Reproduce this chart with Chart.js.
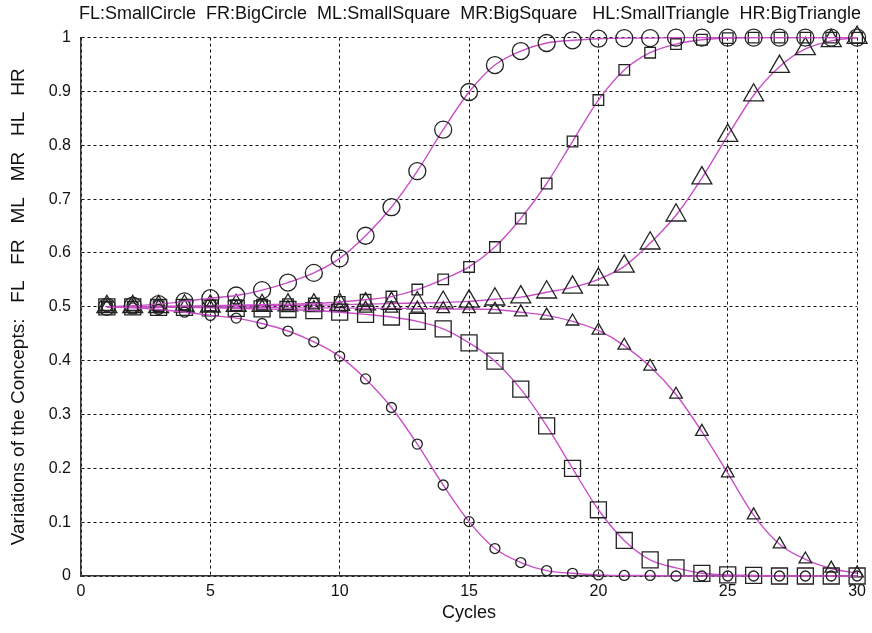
<!DOCTYPE html>
<html>
<head>
<meta charset="utf-8">
<script src="https://cdn.jsdelivr.net/npm/chart.js@4.4.1/dist/chart.umd.min.js"></script>
<style>
  html, body { margin: 0; padding: 0; background: #fff; }
  canvas { display: block; }
</style>
</head>
<body>
<canvas id="conceptsChart" width="872" height="633"></canvas>
<script>
const cycles = [1, 2, 3, 4, 5, 6, 7, 8, 9, 10, 11, 12, 13, 14, 15,
    16, 17, 18, 19, 20, 21, 22, 23, 24, 25, 26, 27, 28, 29, 30];

const FL = [0.500, 0.498, 0.495, 0.490, 0.484, 0.479, 0.469, 0.455, 0.435, 0.408,
    0.366, 0.313, 0.245, 0.169, 0.101, 0.051, 0.025, 0.010, 0.005, 0.002,
    0.001, 0.001, 0, 0, 0, 0, 0, 0, 0, 0];
const FR = [0.500, 0.502, 0.505, 0.510, 0.516, 0.521, 0.531, 0.545, 0.563, 0.590,
    0.632, 0.685, 0.752, 0.829, 0.899, 0.949, 0.975, 0.990, 0.995, 0.998,
    0.999, 0.999, 1, 1, 1, 1, 1, 1, 1, 1];
const ML = [0.500, 0.500, 0.501, 0.501, 0.502, 0.503, 0.504, 0.505, 0.506, 0.509,
    0.513, 0.519, 0.532, 0.551, 0.574, 0.611, 0.664, 0.729, 0.807, 0.884,
    0.940, 0.972, 0.988, 0.996, 0.999, 1, 1, 1, 1, 1];
const MR = [0.500, 0.500, 0.499, 0.499, 0.498, 0.497, 0.496, 0.495, 0.493, 0.490,
    0.486, 0.481, 0.473, 0.459, 0.433, 0.399, 0.347, 0.279, 0.200, 0.123,
    0.066, 0.030, 0.015, 0.005, 0.002, 0.001, 0, 0, 0, 0];
const HL = [0.500, 0.500, 0.500, 0.500, 0.499, 0.499, 0.499, 0.498, 0.498, 0.498,
    0.497, 0.497, 0.497, 0.496, 0.496, 0.495, 0.490, 0.484, 0.473, 0.456,
    0.428, 0.389, 0.337, 0.268, 0.191, 0.113, 0.059, 0.031, 0.014, 0.005];
const HR = [0.500, 0.500, 0.500, 0.501, 0.501, 0.502, 0.502, 0.503, 0.503, 0.504,
    0.505, 0.506, 0.507, 0.508, 0.510, 0.514, 0.518, 0.527, 0.536, 0.551,
    0.575, 0.618, 0.670, 0.739, 0.818, 0.893, 0.946, 0.979, 0.994, 1.000];

const xTickLabels = ['0', '5', '10', '15', '20', '25', '30'];
const yTickLabels = ['0', '0.1', '0.2', '0.3', '0.4', '0.5', '0.6', '0.7', '0.8', '0.9', '1'];

const headerText = 'FL:SmallCircle  FR:BigCircle  ML:SmallSquare  MR:BigSquare   HL:SmallTriangle  HR:BigTriangle';
const yTitle = 'Variations of the Concepts:   FL   FR   ML   MR   HL   HR';
const xTitle = 'Cycles';

const lineColor = '#c94fc9';
const markColor = '#222';
const fontFamily = "'Liberation Sans', Arial, sans-serif";

function series(values, style, radius) {
    return {
        data: values.map((v, i) => ({ x: cycles[i], y: v })),
        borderColor: lineColor,
        borderWidth: 1.4,
        cubicInterpolationMode: 'monotone',
        pointStyle: style,
        pointRadius: radius,
        pointBorderColor: markColor,
        pointBackgroundColor: 'rgba(0,0,0,0)',
        pointBorderWidth: 1.3,
        clip: false,
        fill: false
    };
}

const ctx = document.getElementById('conceptsChart').getContext('2d');

new Chart(ctx, {
    type: 'line',
    data: {
        datasets: [
            series(FL, 'circle', 5),
            series(FR, 'circle', 8.5),
            series(ML, 'rect', 7.5),
            series(MR, 'rect', 11.3),
            series(HL, 'triangle', 7.3),
            series(HR, 'triangle', 11.5)
        ]
    },
    options: {
        responsive: false,
        animation: false,
        layout: {
            padding: { top: 0, right: 11, bottom: 0, left: 0 }
        },
        plugins: {
            legend: { display: false },
            tooltip: { enabled: false },
            title: {
                display: true,
                text: headerText,
                align: 'end',
                color: '#111',
                font: { family: fontFamily, size: 18, weight: 'normal' },
                padding: { top: 3, bottom: 13 }
            }
        },
        scales: {
            x: {
                type: 'linear',
                min: 0,
                max: 30,
                afterFit: scale => { scale.height = 57; },
                ticks: {
                    stepSize: 5,
                    color: '#111',
                    padding: 6,
                    maxRotation: 0,
                    font: { family: fontFamily, size: 16 },
                    callback: (v, i) => xTickLabels[i]
                },
                grid: { color: '#111', lineWidth: 1, drawTicks: false },
                border: { display: true, color: '#333', width: 1.5, dash: [3, 3] },
                title: {
                    display: true,
                    text: xTitle,
                    color: '#111',
                    font: { family: fontFamily, size: 18 },
                    padding: 9
                }
            },
            y: {
                min: 0,
                max: 1,
                afterFit: scale => { scale.width = 81; },
                ticks: {
                    stepSize: 0.1,
                    color: '#111',
                    padding: 10,
                    font: { family: fontFamily, size: 16 },
                    callback: (v, i) => yTickLabels[i]
                },
                grid: { color: '#111', lineWidth: 1, drawTicks: false },
                border: { display: true, color: '#333', width: 1.5, dash: [3, 3] },
                title: {
                    display: true,
                    text: yTitle,
                    color: '#111',
                    font: { family: fontFamily, size: 19 },
                    padding: 7
                }
            }
        }
    }
});
</script>
</body>
</html>
